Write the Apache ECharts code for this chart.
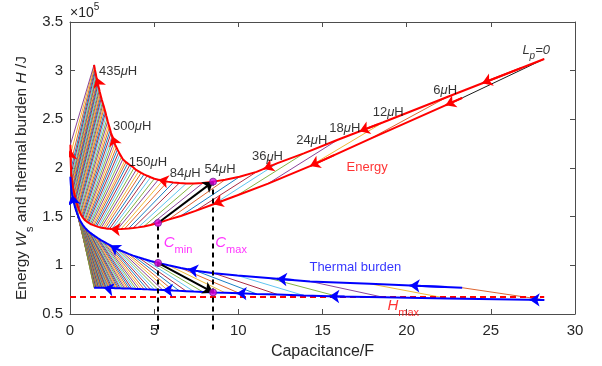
<!DOCTYPE html>
<html><head><meta charset="utf-8">
<script src="https://cdn.jsdelivr.net/npm/echarts/dist/echarts.min.js"></script>
<style>html,body{margin:0;padding:0;background:#fff}#c{width:602px;height:366px}</style>
</head><body><div id="c"></div>
<script>
// Parasitic inductance Lp (uH) for each hatch line
const inductance = [0,6,12,18,24,30,36,42,48,54,60,66,72,78,84,90,96,102,108,114,120,126,132,138,144,150,156,162,168,174,180,186,192,198,204,210,216,222,228,234,240,246,252,258,264,270,276,282,288,294,300,306,312,318,324,330,336,342,348,354,360,366,372,378,384,390,396,402,408,414,420,426,432,435];
// Capacitance at C_max and C_min (F)
const cMax = [28.17,22.41,18.61,15.91,13.89,12.33,11.08,10.07,9.22,8.50,
  7.89,7.36,6.90,6.49,6.13,5.80,5.51,5.25,5.01,4.79,
  4.59,4.40,4.23,4.08,3.93,3.80,3.67,3.55,3.44,3.33,
  3.24,3.14,3.05,2.97,2.89,2.82,2.75,2.68,2.62,2.56,
  2.50,2.44,2.39,2.34,2.29,2.24,2.20,2.15,2.11,2.07,
  2.03,2.00,1.96,1.93,1.89,1.86,1.83,1.80,1.77,1.74,
  1.72,1.69,1.66,1.64,1.62,1.59,1.57,1.55,1.53,1.50,
  1.48,1.46,1.44,1.43];
const cMin = [23.30,17.82,14.26,11.77,9.95,8.56,7.46,6.58,5.85,5.23,
  4.78,4.39,4.05,3.75,3.48,3.24,3.03,2.83,2.66,2.49,
  2.35,2.21,2.08,1.97,1.86,1.76,1.67,1.58,1.50,1.42,
  1.35,1.28,1.21,1.155,1.097,1.044,0.992,0.941,0.896,0.851,
  0.808,0.765,0.727,0.690,0.653,0.618,0.586,0.553,0.522,0.493,
  0.464,0.439,0.411,0.387,0.361,0.338,0.315,0.293,0.272,0.251,
  0.232,0.212,0.192,0.174,0.157,0.139,0.123,0.106,0.091,0.075,
  0.060,0.045,0.031,0.024];
// Energy Ws (x1e5 J) at C_max (upper branch) and at C_min (lower branch)
const energyUpper = [3.12,2.73,2.47,2.29,2.15,2.05,1.96,1.91,1.88,1.86,
  1.845,1.84,1.84,1.845,1.85,1.86,1.87,1.88,1.89,1.905,
  1.92,1.935,1.95,1.965,1.98,2.00,2.02,2.03,2.05,2.06,
  2.07,2.09,2.11,2.14,2.16,2.19,2.21,2.24,2.27,2.30,
  2.33,2.36,2.39,2.42,2.45,2.48,2.51,2.54,2.57,2.59,
  2.62,2.64,2.66,2.68,2.70,2.72,2.74,2.76,2.78,2.80,
  2.82,2.84,2.86,2.88,2.90,2.92,2.93,2.95,2.97,2.99,
  3.01,3.03,3.05,3.06];
const energyLower = [2.72,2.30,2.02,1.84,1.72,1.63,1.56,1.507,1.47,1.435,
  1.415,1.40,1.39,1.383,1.378,1.375,1.373,1.372,1.372,1.373,
  1.375,1.377,1.38,1.383,1.387,1.39,1.395,1.40,1.405,1.41,
  1.415,1.42,1.425,1.43,1.437,1.443,1.45,1.457,1.463,1.47,
  1.48,1.49,1.50,1.51,1.52,1.533,1.545,1.56,1.575,1.59,
  1.605,1.62,1.635,1.65,1.665,1.68,1.695,1.71,1.725,1.74,
  1.76,1.775,1.79,1.81,1.83,1.85,1.87,1.89,1.92,1.95,
  1.99,2.05,2.14,2.24];
// Thermal burden H (x1e5 J) at C_min (upper branch) and at C_max (lower branch)
const thermalUpper = [0.77,0.81,0.835,0.87,0.895,0.918,0.945,0.972,1.00,1.025,
  1.045,1.065,1.083,1.10,1.118,1.135,1.15,1.165,1.18,1.195,
  1.21,1.222,1.235,1.246,1.257,1.268,1.278,1.288,1.297,1.306,
  1.315,1.324,1.333,1.341,1.35,1.358,1.367,1.376,1.385,1.394,
  1.404,1.414,1.424,1.434,1.444,1.455,1.466,1.478,1.49,1.502,
  1.515,1.527,1.54,1.552,1.565,1.578,1.59,1.603,1.616,1.63,
  1.643,1.657,1.672,1.686,1.70,1.715,1.73,1.748,1.765,1.785,
  1.81,1.84,1.875,1.91];
const thermalLower = [0.645,0.66,0.672,0.68,0.69,0.70,0.706,0.712,0.718,0.722,
  0.727,0.731,0.735,0.738,0.741,0.744,0.746,0.748,0.75,0.752,
  0.753,0.755,0.756,0.757,0.758,0.759,0.76,0.761,0.761,0.762,
  0.762,0.763,0.763,0.764,0.764,0.764,0.765,0.765,0.765,0.766,
  0.766,0.766,0.767,0.767,0.767,0.767,0.768,0.768,0.768,0.768,
  0.768,0.769,0.769,0.769,0.769,0.769,0.769,0.77,0.77,0.77,
  0.77,0.77,0.77,0.77,0.77,0.77,0.77,0.77,0.77,0.77,
  0.77,0.77,0.77,0.77];
const labeledL = [0,6,12,18,24,36,54,84,150,300,435];
const selectedL = 54;
const Hmax = 0.678;
const xTicks = [0,5,10,15,20,25,30];
const yTicks = [0.5,1,1.5,2,2.5,3,3.5];

// ---------- styling ----------
const palette = ['#0072BD','#D95319','#EDB120','#7E2F8E','#77AC30','#4DBEEE','#A2142F'];
const FONT = 'Liberation Sans, Arial, sans-serif';
const labelOffsets = {0:[-8,-9],6:[-2,-7],12:[5,-10],18:[7,-11],24:[8,-13],36:[11,-15],54:[7,-12],84:[12,-9],150:[14,-6],300:[28,19],435:[24,7]};
// arrow positions as fractional indices along each branch
const arrowsEU = [0.64,2.52,5.66,17,40,66];
const arrowsEL = [0.18,2,5.05,19.7,72.5];
const arrowsTU = [0.57,2.79,6.52,19.7,65.5];
const arrowsTL = [0.15,3.25,7.2,16,51];

function along(xs, ys, t){
  t = Math.max(0, Math.min(t, xs.length-1));
  const i = Math.min(Math.floor(t), xs.length-2), f = t-i;
  return [xs[i]+(xs[i+1]-xs[i])*f, ys[i]+(ys[i+1]-ys[i])*f];
}
function arrowItems(xs, ys, ts){
  return ts.map(t => ({coords:[along(xs,ys,t-0.4), along(xs,ys,t)]}));
}
const energyHatch = inductance.map((L,i)=>({coords:[[cMin[i],energyLower[i]],[cMax[i],energyUpper[i]]],
  lineStyle:{color: i===0 ? '#000000' : palette[i%7]}}));
const thermalHatch = inductance.map((L,i)=>({coords:[[cMin[i],thermalUpper[i]],[cMax[i],thermalLower[i]]],
  lineStyle:{color: palette[(i+1)%7]}}));
const k = inductance.indexOf(selectedL);
const yMin = yTicks[0], yMax = yTicks[yTicks.length-1];

const rich = {
  n:{fontSize:13,color:'#000',fontFamily:FONT},
  i:{fontSize:13,color:'#000',fontStyle:'italic',fontFamily:FONT},
  s:{fontSize:10,color:'#000',fontStyle:'italic',fontFamily:FONT,verticalAlign:'bottom',lineHeight:22}
};
const lpLabels = labeledL.map(L=>{
  const i = inductance.indexOf(L);
  const txt = L===0 ? '{i|L}{s|p}{i|=0}' : '{n|'+L+'}{i|μ}{n|H}';
  return {value:[cMax[i],energyUpper[i]], label:{show:true, position:'inside', offset:labelOffsets[L], formatter:txt, rich:rich}};
});
function sub(color){
  return {
    m:{fontSize:15,color:color,fontStyle:'italic',fontFamily:FONT,lineHeight:18},
    s:{fontSize:11,color:color,fontFamily:FONT,verticalAlign:'bottom',lineHeight:26}
  };
}
const annotations = [
  {value:[17.65,2.01], label:{formatter:'Energy', color:'#FF0000', fontSize:13}},
  {value:[16.95,0.983], label:{formatter:'Thermal burden', color:'#0000FF', fontSize:13}},
  {value:[6.42,1.23], label:{formatter:'{m|C}{s|min}', rich:sub('#FF00FF')}},
  {value:[9.57,1.23], label:{formatter:'{m|C}{s|max}', rich:sub('#FF00FF')}},
  {value:[19.8,0.585], label:{formatter:'{m|H}{s|max}', rich:sub('#FF0000')}}
].map(a=>{a.label.show=true; a.label.position='inside'; a.label.fontFamily=FONT; return a;});

const axisCol = '#4d4d4d';
function xAx(pos, showLabel){
  return {type:'value', position:pos, min:xTicks[0], max:xTicks[xTicks.length-1], interval:5,
    axisLine:{show:true,onZero:false,lineStyle:{color:axisCol,width:1}},
    axisTick:{show:true,inside:true,length:5,lineStyle:{color:axisCol}},
    axisLabel:{show:showLabel,color:'#262626',fontSize:15,margin:9,fontFamily:FONT},
    splitLine:{show:false}};
}
function yAx(pos, showLabel){
  return {type:'value', position:pos, min:yMin, max:yMax, interval:0.5,
    axisLine:{show:true,onZero:false,lineStyle:{color:axisCol,width:1}},
    axisTick:{show:true,inside:true,length:5,lineStyle:{color:axisCol}},
    axisLabel:{show:showLabel,color:'#262626',fontSize:15,margin:7,fontFamily:FONT},
    splitLine:{show:false}};
}
const curveStyle = (c)=>({type:'line', showSymbol:false, symbol:'none', silent:true, z:3, animation:false, lineStyle:{color:c,width:2}});
const arrowSeries = (items,c)=>({type:'lines', coordinateSystem:'cartesian2d', silent:true, z:4, animation:false,
  symbol:['none','arrow'], symbolSize:10, lineStyle:{color:c,width:2,opacity:1}, data:items});

const option = {
  animation:false,
  textStyle:{fontFamily:FONT},
  grid:{left:70,right:27,top:22,bottom:52,containLabel:false},
  xAxis:[xAx('bottom',true), xAx('top',false)],
  yAxis:[yAx('left',true), yAx('right',false)],
  series:[
    {type:'lines', coordinateSystem:'cartesian2d', silent:true, z:1, animation:false, lineStyle:{width:0.9,opacity:1}, data:energyHatch},
    {type:'lines', coordinateSystem:'cartesian2d', silent:true, z:1, animation:false, lineStyle:{width:0.9,opacity:1}, data:thermalHatch},
    {type:'lines', coordinateSystem:'cartesian2d', silent:true, z:2, animation:false,
      lineStyle:{color:'#FF0000',width:1.8,type:[6,4],opacity:1}, data:[{coords:[[0,Hmax],[cMax[0],Hmax]]}]},
    Object.assign(curveStyle('#FF0000'),{data:cMax.map((c,i)=>[c,energyUpper[i]])}),
    Object.assign(curveStyle('#FF0000'),{data:cMin.map((c,i)=>[c,energyLower[i]])}),
    Object.assign(curveStyle('#0000FF'),{data:cMin.map((c,i)=>[c,thermalUpper[i]])}),
    Object.assign(curveStyle('#0000FF'),{data:cMax.map((c,i)=>[c,thermalLower[i]])}),
    arrowSeries(arrowItems(cMax,energyUpper,arrowsEU),'#FF0000'),
    arrowSeries(arrowItems(cMin,energyLower,arrowsEL),'#FF0000'),
    arrowSeries(arrowItems(cMin,thermalUpper,arrowsTU),'#0000FF'),
    arrowSeries(arrowItems(cMax,thermalLower,arrowsTL),'#0000FF'),
    {type:'lines', coordinateSystem:'cartesian2d', silent:true, z:5, animation:false, clip:false,
      lineStyle:{color:'#000000',width:2,type:[5,4],opacity:1},
      data:[{coords:[[cMin[k],yMin-0.16],[cMin[k],energyLower[k]]]},{coords:[[cMax[k],yMin-0.16],[cMax[k],energyUpper[k]]]}]},
    {type:'lines', coordinateSystem:'cartesian2d', silent:true, z:6, animation:false,
      symbol:['none','arrow'], symbolSize:10, lineStyle:{color:'#000000',width:2,opacity:1},
      data:[{coords:[[cMin[k],energyLower[k]],[cMax[k],energyUpper[k]]]},{coords:[[cMin[k],thermalUpper[k]],[cMax[k],thermalLower[k]]]}]},
    {type:'scatter', silent:true, z:7, animation:false, symbolSize:7,
      itemStyle:{color:'#E000E0',borderColor:'#702090',borderWidth:1},
      data:[[cMin[k],energyLower[k]],[cMax[k],energyUpper[k]],[cMin[k],thermalUpper[k]],[cMax[k],thermalLower[k]]]},
    {type:'scatter', silent:true, z:8, animation:false, symbolSize:0, data:lpLabels},
    {type:'scatter', silent:true, z:8, animation:false, symbolSize:0, data:annotations}
  ]
};
const chart = echarts.init(document.getElementById('c'), null, {renderer:'canvas'});
chart.setOption(option);
const gx = chart.convertToPixel({gridIndex:0},[(xTicks[0]+xTicks[xTicks.length-1])/2,(yMin+yMax)/2]);
chart.setOption({graphic:[
  {type:'text', x:70, y:2, style:{text:'{n|×10}{p|5}', rich:{
    n:{fontSize:14,fill:'#262626',fontFamily:FONT,lineHeight:18},
    p:{fontSize:10,fill:'#262626',fontFamily:FONT,verticalAlign:'top',lineHeight:22}}}},
  {type:'text', x:22, y:gx[1]+10, rotation:Math.PI/2, style:{
    text:'{n|Energy }{i|W}{s|s}{n| and thermal burden }{i|H}{n| /J}',
    textAlign:'center', textVerticalAlign:'middle', align:'center', verticalAlign:'middle',
    rich:{
      n:{fontSize:15.5,fill:'#262626',fontFamily:FONT,lineHeight:18},
      i:{fontSize:15.5,fill:'#262626',fontStyle:'italic',fontFamily:FONT,lineHeight:18},
      s:{fontSize:11,fill:'#262626',fontFamily:FONT,verticalAlign:'bottom',lineHeight:26}}}},
  {type:'text', x:gx[0], y:352, style:{text:'Capacitance/F', fontSize:16, fill:'#262626', fontFamily:FONT,
    textAlign:'center', textVerticalAlign:'middle', align:'center', verticalAlign:'middle'}}
]});
</script></body></html>
